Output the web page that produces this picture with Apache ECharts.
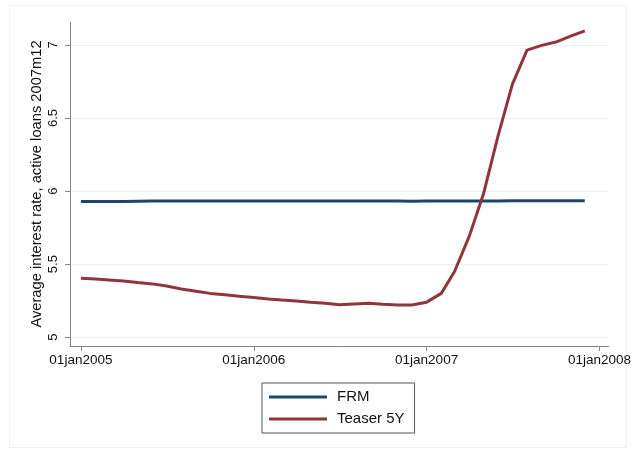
<!DOCTYPE html>
<html>
<head>
<meta charset="utf-8">
<script src="https://cdn.jsdelivr.net/npm/echarts@6/dist/echarts.min.js"></script>
<style>html,body{margin:0;padding:0;background:#fff}#c{width:634px;height:450px}</style>
</head>
<body>
<div id="c"></div>
<script>
// Data (monthly, 2005m1 - 2007m12)
var months = ['2005-01-01','2005-02-01','2005-03-01','2005-04-01','2005-05-01','2005-06-01','2005-07-01','2005-08-01','2005-09-01','2005-10-01','2005-11-01','2005-12-01',
              '2006-01-01','2006-02-01','2006-03-01','2006-04-01','2006-05-01','2006-06-01','2006-07-01','2006-08-01','2006-09-01','2006-10-01','2006-11-01','2006-12-01',
              '2007-01-01','2007-02-01','2007-03-01','2007-04-01','2007-05-01','2007-06-01','2007-07-01','2007-08-01','2007-09-01','2007-10-01','2007-11-01','2007-12-01'];
var frm = [5.928,5.928,5.928,5.929,5.931,5.932,5.932,5.932,5.932,5.932,5.932,5.932,
           5.932,5.932,5.932,5.932,5.932,5.932,5.932,5.932,5.932,5.932,5.932,5.931,
           5.932,5.932,5.932,5.932,5.933,5.933,5.934,5.934,5.934,5.934,5.934,5.934];
var teaser = [5.403,5.398,5.392,5.385,5.375,5.365,5.350,5.330,5.315,5.300,5.290,5.280,
              5.272,5.262,5.255,5.248,5.240,5.232,5.222,5.228,5.232,5.225,5.221,5.220,
              5.240,5.300,5.450,5.690,5.980,6.380,6.730,6.965,6.997,7.020,7.060,7.096];
var xTicks = ['2005-01-01','2006-01-01','2007-01-01','2008-01-01'];
var yTicks = [5, 5.5, 6, 6.5, 7];
var seriesNames = ['FRM', 'Teaser 5Y'];
var yTitle = 'Average interest rate, active loans 2007m12';

var mon = ['jan','feb','mar','apr','may','jun','jul','aug','sep','oct','nov','dec'];
function ts(s){ var p = s.split('-'); return Date.UTC(+p[0], +p[1]-1, +p[2]); }
function fmtDate(v){ var d = new Date(Math.round(v)); var dd = d.getUTCDate(); return (dd<10?'0':'')+dd+mon[d.getUTCMonth()]+d.getUTCFullYear(); }
function pairs(vals){ return months.map(function(m,i){ return [ts(m), vals[i]]; }); }
var xTickTs = xTicks.map(ts);
var DAY = 86400000;
var font = 'Liberation Sans, Arial, Helvetica, sans-serif';

var chart = echarts.init(document.getElementById('c'), null, {renderer:'canvas'});
chart.setOption({
  animation: false,
  backgroundColor: '#ffffff',
  graphic: [{
    type: 'rect', silent: true, z: -10,
    shape: {x: 9.5, y: 5.5, width: 617, height: 442},
    style: {fill: 'none', stroke: '#edf1f2', lineWidth: 1}
  }],
  grid: {left: 70, top: 22, right: 23, bottom: 104, containLabel: false},
  xAxis: {
    type: 'value',
    min: ts('2005-01-01') - 23*DAY,
    max: ts('2008-01-01') + 19*DAY,
    axisLine: {show: true, lineStyle: {color: '#858585', width: 1}},
    axisTick: {show: true, customValues: xTickTs, length: 5, lineStyle: {color: '#858585'}},
    axisLabel: {customValues: xTickTs, formatter: function(v){ return fmtDate(v); },
                color: '#111', fontFamily: font, fontSize: 13.5, margin: 7, hideOverlap: false},
    splitLine: {show: false}
  },
  yAxis: {
    type: 'value',
    min: 4.94, max: 7.157,
    name: yTitle, nameLocation: 'middle', nameGap: 26, nameRotate: 90, nameMoveOverlap: false,
    nameTextStyle: {color: '#111', fontFamily: font, fontSize: 14.7},
    axisLine: {show: true, lineStyle: {color: '#858585', width: 1}},
    axisTick: {show: true, customValues: yTicks, length: 5, lineStyle: {color: '#858585'}},
    axisLabel: {customValues: yTicks, rotate: 90, color: '#111', fontFamily: font, fontSize: 13, margin: 10,
                formatter: function(v){ return String(v); }},
    splitLine: {show: true, lineStyle: {color: '#eaf1f1', width: 1}}
  },
  legend: {
    data: seriesNames,
    orient: 'vertical', left: 262, top: 383,
    padding: [6, 10, 6, 7], itemGap: 6,
    itemWidth: 58, itemHeight: 3, icon: 'rect',
    borderColor: '#555', borderWidth: 1, borderRadius: 0,
    textStyle: {color: '#111', fontFamily: font, fontSize: 15, lineHeight: 16, padding: [0, 0, 0, 5]},
    itemStyle: {borderWidth: 0}
  },
  series: [
    {name: seriesNames[0], type: 'line', data: pairs(frm), showSymbol: false, symbol: 'none',
     lineStyle: {color: '#1a476f', width: 3}, itemStyle: {color: '#1a476f'}},
    {name: seriesNames[1], type: 'line', data: pairs(teaser), showSymbol: false, symbol: 'none',
     lineStyle: {color: '#90353b', width: 3}, itemStyle: {color: '#90353b'}}
  ]
});
</script>
</body>
</html>
